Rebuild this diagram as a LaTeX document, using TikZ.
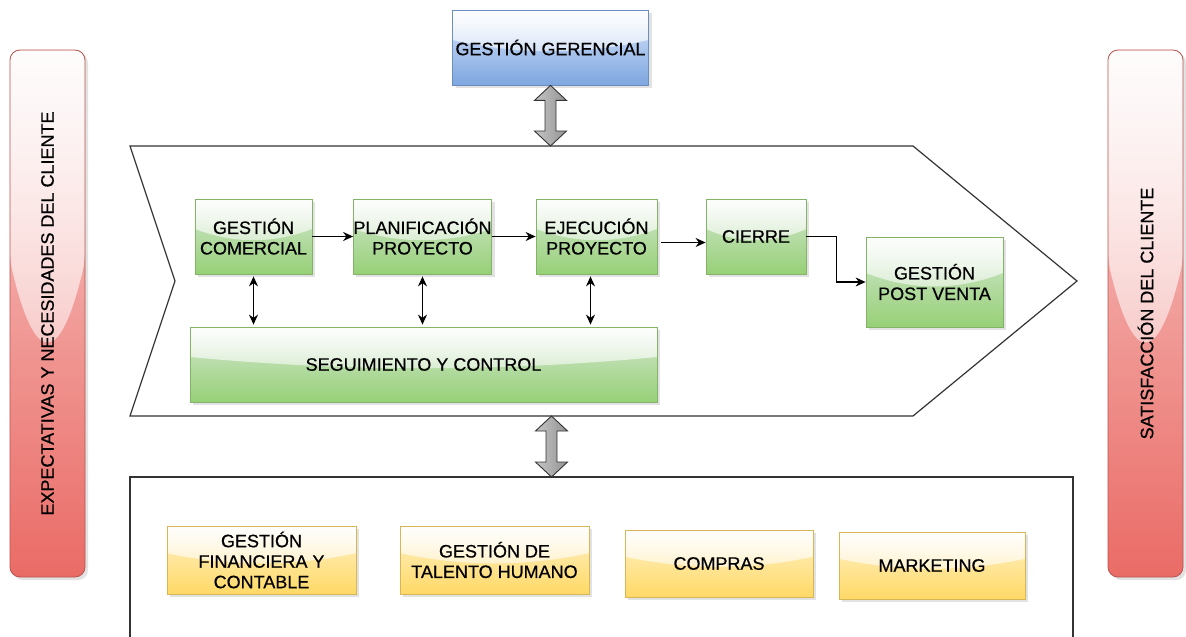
\documentclass[tikz,border=0pt]{standalone}
\usepackage{fontspec}
\setmainfont{Liberation Sans}
\newfontfamily\dfont{Liberation Sans}[FakeBold=0.6]
\usetikzlibrary{arrows.meta,shadows,fadings,calc}
\tikzfading[name=glassfade, top color=transparent!5, bottom color=transparent!85]
\definecolor{grT}{HTML}{D5E8D4}\definecolor{grB}{HTML}{97D077}\definecolor{grD}{HTML}{82B366}
\definecolor{blT}{HTML}{DAE8FC}\definecolor{blB}{HTML}{7EA6E0}\definecolor{blD}{HTML}{6C8EBF}
\definecolor{yeT}{HTML}{FFF2CC}\definecolor{yeB}{HTML}{FFD966}\definecolor{yeD}{HTML}{D6B656}
\definecolor{reT}{HTML}{F8CECC}\definecolor{reB}{HTML}{EA6B66}\definecolor{reD}{HTML}{B85450}
\definecolor{lineC}{HTML}{333333}
\tikzset{
  glass/.style={path picture={
    \path[fill=white, path fading=glassfade] let \p1=(path picture bounding box.north west), \p2=(path picture bounding box.south east) in
      (\x1,\y1) -- (\x1,{\y1+0.4*(\y2-\y1)})
      .. controls ({\x1+(\x2-\x1)/3},{\y1+0.6*(\y2-\y1)}) and ({\x1+2*(\x2-\x1)/3},{\y1+0.6*(\y2-\y1)}) ..
      (\x2,{\y1+0.4*(\y2-\y1)}) -- (\x2,\y1) -- cycle;
  }},
  basebox/.style={rectangle, line width=0.8pt, glass, align=center, inner sep=0pt,
    font=\dfont\fontsize{18}{20.5}\selectfont,
    drop shadow={shadow xshift=3pt, shadow yshift=-3pt, fill=black!22}},
  greenbox/.style={basebox, draw=grD, top color=grT, bottom color=grB},
  bluebox/.style={basebox, draw=blD, top color=blT, bottom color=blB},
  yellowbox/.style={basebox, draw=yeD, top color=yeT, bottom color=yeB},
  redbar/.style={basebox, rounded corners=10pt, draw=reD, top color=reT, bottom color=reB,
    minimum width=75pt, minimum height=527pt},
  frameline/.style={draw=lineC, line width=1.2pt},
  conn/.style={line width=1.2pt, -{Stealth[length=10pt,width=9pt]}},
  dconn/.style={line width=1.2pt, {Stealth[length=10pt,width=9pt]}-{Stealth[length=10pt,width=9pt]}},
  bigarr/.style={draw=black!80, line width=0.9pt, left color=gray!45, right color=gray!85}
}
\newcommand{\bigdarrow}[2]{%
  \path[bigarr] let \p1=(#1), \p2=(#2) in
    (\x1,\y1) -- ({\x1+16pt},{\y1-15pt}) -- ({\x1+5.5pt},{\y1-15pt}) -- ({\x1+5.5pt},{\y2+15pt})
    -- ({\x1+16pt},{\y2+15pt}) -- (\x1,\y2) -- ({\x1-16pt},{\y2+15pt}) -- ({\x1-5.5pt},{\y2+15pt})
    -- ({\x1-5.5pt},{\y1-15pt}) -- ({\x1-16pt},{\y1-15pt}) -- cycle;}
\begin{document}
\begin{tikzpicture}[x=1pt,y=-1pt]
\useasboundingbox (0,0) rectangle (1186,637);
\fill[white] (0,0) rectangle (1186,637);

% side bars
\node[redbar] (lbar) at (47.5,313.5) {\rotatebox{90}{EXPECTATIVAS Y NECESIDADES DEL CLIENTE}};
\node[redbar] (rbar) at (1145.5,313.5) {\rotatebox{90}{SATISFACCIÓN DEL CLIENTE}};

% top box
\node[bluebox, minimum width=196pt, minimum height=75pt] (gg) at (550.5,47.5) {GESTIÓN GERENCIAL};

% chevron frame
\draw[frameline] (130,146) -- (913,146) -- (1077,281) -- (913,416) -- (130,416) -- (175,281) -- cycle;
\coordinate (chevtop) at (551.5,146);
\coordinate (chevbot) at (551.5,416);

% bottom frame (open at the bottom)
\draw[frameline] (130,660) -- (130,477) -- (1073,477) -- (1073,660);
\coordinate (bottop) at (551.5,477);

% big double arrows
\bigdarrow{gg.south}{chevtop}
\bigdarrow{chevbot}{bottop}

% process boxes
\node[greenbox, minimum width=117pt, minimum height=75pt] (gc) at (253.5,236.5) {GESTIÓN\\COMERCIAL};
\node[greenbox, minimum width=135pt, minimum height=75pt] (pl) at (422.5,236.5) {PLANIFICACIÓN\\PROYECTO};
\node[greenbox, minimum width=121pt, minimum height=75pt] (ej) at (596.5,236.5) {EJECUCIÓN\\PROYECTO};
\node[greenbox, minimum width=100pt, minimum height=75pt] (ci) at (756,236.5) {CIERRE};
\node[greenbox, minimum width=137pt, minimum height=90pt] (gpv) at (934.5,282) {GESTIÓN\\POST VENTA};
\node[greenbox, minimum width=467pt, minimum height=75pt] (sc) at (423.5,364.5) {SEGUIMIENTO Y CONTROL};

% support boxes
\node[yellowbox, minimum width=189pt, minimum height=68pt] (gf) at (261.5,560) {GESTIÓN\\FINANCIERA Y\\CONTABLE};
\node[yellowbox, minimum width=189pt, minimum height=68pt] (th) at (494.5,560) {GESTIÓN DE\\TALENTO HUMANO};
\node[yellowbox, minimum width=188pt, minimum height=67pt] (co) at (719,563.5) {COMPRAS};
\node[yellowbox, minimum width=186pt, minimum height=67pt] (mk) at (932,565.5) {MARKETING};

% connectors
\draw[conn] (gc.east) -- (pl.west);
\draw[conn] (pl.east) -- (ej.west);
\draw[conn] ($(ej.east)+(4,6)$) -- ($(ci.west)+(0,6)$);
\draw[conn] (ci.east) -- ++(30,0) |- (gpv.west);
\draw[dconn, shorten <=2pt, shorten >=2pt] (gc.south) -- (gc.south |- sc.north);
\draw[dconn, shorten <=2pt, shorten >=2pt] (pl.south) -- (pl.south |- sc.north);
\draw[dconn, shorten <=2pt, shorten >=2pt] ($(ej.south)+(-6,0)$) -- ($(ej.south |- sc.north)+(-6,0)$);
\end{tikzpicture}
\end{document}
